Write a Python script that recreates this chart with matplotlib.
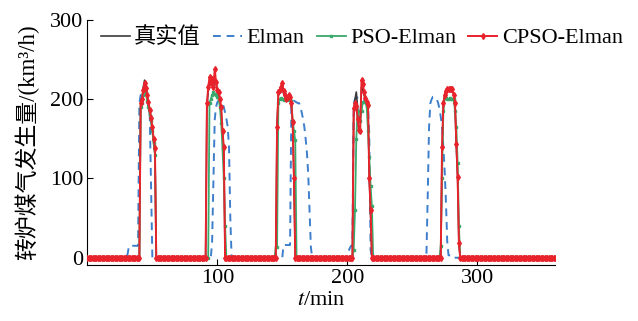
import matplotlib
matplotlib.use('Agg')
import matplotlib.pyplot as plt
import numpy as np

plt.rcParams['font.family'] = ['Liberation Serif', 'Noto Sans CJK SC']
plt.rcParams['mathtext.fontset'] = 'stix'

# time axis (min)
t = np.arange(0, 361)

# each series: zero outside the pulses, pulse values read minute by minute
true_start = [41, 92, 146, 205, 273]
true_segs = [
    [192, 200, 215, 224, 218, 205, 193, 182, 172, 160, 145, 130],
    [190, 210, 222, 218, 220, 214, 230, 220, 210, 205, 198, 185, 155, 135],
    [170, 205, 208, 212, 218, 207, 203, 199, 200, 203, 201, 193, 168, 98],
    [180, 200, 209, 190, 170, 175, 215, 212, 205, 199, 195, 190, 100, 55],
    [130, 190, 205, 212, 213, 213, 213, 213, 213, 205, 190, 140, 100, 15],
]

elman_start = [31, 96, 151, 201, 261]
elman_segs = [
    [5, 15, 15, 15, 15, 15, 15, 15, 15, 195, 205, 210, 214, 212, 205, 198, 190, 180, 90],
    [20, 100, 174, 190, 196, 198, 198, 197, 195, 190, 183, 175, 165, 140, 50],
    [16, 16, 16, 16, 16, 16, 190, 197, 198, 197, 196, 195, 195, 190, 183, 175, 165, 150, 132, 105, 60, 14],
    [8, 12, 15, 15, 195, 200, 202, 202, 202, 201, 200, 200, 199, 198, 196, 194, 150, 10],
    [5, 80, 165, 195, 200, 203, 203, 202, 200, 195, 188, 178, 165, 140, 110, 70, 20, 3, 3, 3],
]

pso_start = [41, 94, 145, 205, 272]
pso_segs = [
    [190, 195, 205, 212, 208, 198, 190, 180, 172, 160, 145, 130],
    [195, 200, 205, 209, 207, 205, 203, 200, 190, 170, 137, 100, 40],
    [13, 13, 195, 200, 201, 200, 199, 200, 201, 200, 199, 200, 198, 173, 160, 148],
    [10, 60, 150, 185, 175, 173, 185, 196, 196, 196, 190, 160, 127, 90, 65],
    [15, 100, 185, 201, 201, 200, 200, 201, 200, 200, 200, 185, 165, 120, 40],
]

cpso_start = [41, 92, 146, 205, 273]
cpso_segs = [
    [195, 200, 212, 220, 214, 205, 196, 186, 176, 165, 150, 138],
    [195, 215, 228, 220, 226, 215, 238, 222, 212, 209, 200, 190, 160, 140],
    [165, 209, 212, 215, 221, 210, 205, 200, 202, 205, 203, 195, 171, 100],
    [189, 195, 192, 175, 161, 160, 224, 219, 209, 201, 197, 193, 100, 60],
    [140, 195, 205, 210, 213, 213, 213, 213, 213, 205, 195, 144, 102, 19],
]

labels = ['真实值', 'Elman', 'PSO-Elman', 'CPSO-Elman']


def build(starts, segs):
    y = np.zeros(len(t))
    for s, v in zip(starts, segs):
        y[s:s + len(v)] = v
    return y


y_true = build(true_start, true_segs)
y_elman = build(elman_start, elman_segs)
y_pso = build(pso_start, pso_segs)
y_cpso = build(cpso_start, cpso_segs)

fig = plt.figure(figsize=(6.38, 3.21), dpi=100)
ax = fig.add_axes([0.137, 0.175, 0.733, 0.763])

ax.plot(t, y_true, color='#3a3a3a', lw=1.2, label=labels[0], zorder=2)
ax.plot(t, y_elman, color='#3d7fcc', lw=1.4, ls=(0, (4, 3)), label=labels[1], zorder=1)
ax.plot(t, y_pso, color='#3aaa6c', lw=1.3, marker='s', ms=2, label=labels[2], zorder=3)
ax.plot(t, y_cpso, color='#e8232b', lw=1.4, marker='d', ms=3, label=labels[3], zorder=4)

ax.set_xlim(0, 360)
ax.set_ylim(-9, 300)
ax.set_xticks([100, 200, 300])
ax.set_yticks([0, 100, 200, 300])
ax.tick_params(direction='in', length=4, labelsize=16, pad=3)
ax.spines['top'].set_visible(False)
ax.spines['right'].set_visible(False)

ax.set_xlabel('$t$/min', fontsize=16, labelpad=2)
ax.set_ylabel('转炉煤气发生量/(km³/h)', fontsize=16.5, labelpad=8)

fig.legend(loc='center left', bbox_to_anchor=(0.158, 0.882), ncol=4, frameon=False,
           fontsize=16, handlelength=1.3, handletextpad=0.2, columnspacing=0.55,
           numpoints=1, borderaxespad=0, borderpad=0)

fig.savefig('out.png', dpi=100)
